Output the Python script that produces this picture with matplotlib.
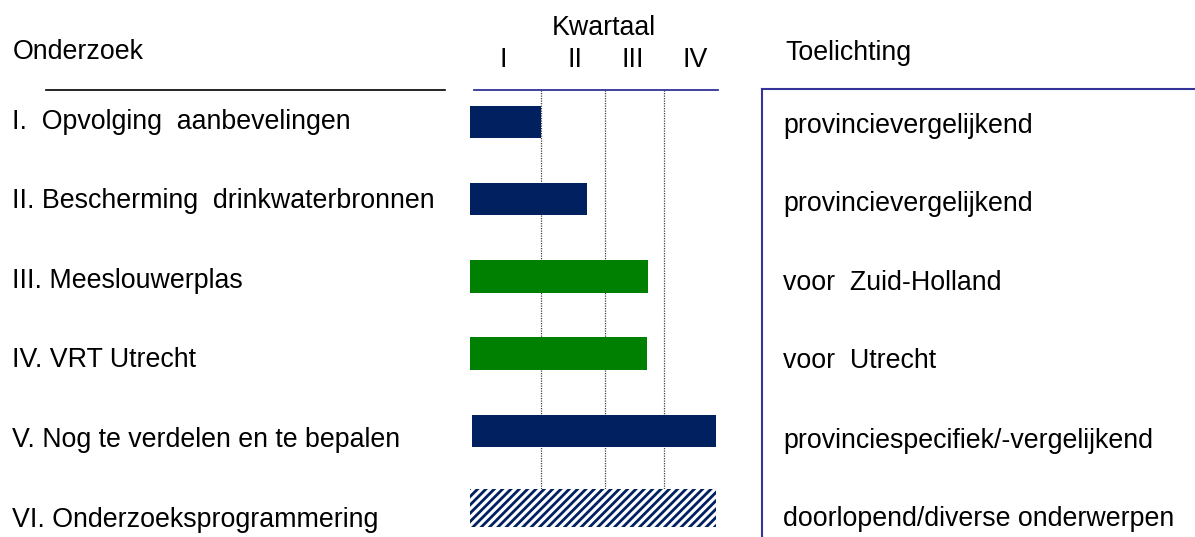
import matplotlib
matplotlib.use("Agg")
import matplotlib.pyplot as plt

# ---------------- data ----------------
projects = [
    "I.  Opvolging  aanbevelingen",
    "II. Bescherming  drinkwaterbronnen",
    "III. Meeslouwerplas",
    "IV. VRT Utrecht",
    "V. Nog te verdelen en te bepalen",
    "VI. Onderzoeksprogrammering",
]
notes = [
    "provincievergelijkend",
    "provincievergelijkend",
    "voor  Zuid-Holland",
    "voor  Utrecht",
    "provinciespecifiek/-vergelijkend",
    "doorlopend/diverse onderwerpen",
]
start_q = [0.0, 0.0, 0.0, 0.0, 0.03, 0.0]
end_q = [1.145, 1.89, 2.87, 2.85, 3.97, 3.97]
kind = ["dark", "dark", "green", "green", "dark", "ongoing"]
quarter_labels = ["I", "II", "III", "IV"]
quarter_label_pos = [0.53, 1.69, 2.62, 3.63]
quarter_bounds = [1.145, 2.18, 3.13]

# ---------------- style ----------------
W, H = 1195, 537
NAVY = "#002060"
GREEN = "#008000"
LINE = "#333399"
FONT = "Liberation Sans"
FS = 19.3
plt.rcParams["font.family"] = [FONT, "DejaVu Sans"]
plt.rcParams["hatch.linewidth"] = 2.0
plt.rcParams["hatch.color"] = NAVY

fig = plt.figure(figsize=(W / 100, H / 100), dpi=100)
fig.patch.set_facecolor("white")

def fx(px):
    return px / W

def fy(py):
    return 1 - py / H

# gantt axes: x 470..718 px, y 90..537 px
ax = fig.add_axes([fx(470), 0, fx(718) - fx(470), fy(90)])
ax.set_xlim(0, 4)
ax.set_ylim(5.376, -0.415)
ax.axis("off")

ax.vlines(quarter_bounds, -0.415, 5 - 0.245, colors="#404040", lw=0.9,
          linestyles=[(0, (1, 1))], zorder=1)

for i, (s, e, k) in enumerate(zip(start_q, end_q, kind)):
    if k == "ongoing":
        ax.barh(i, e - s, left=s, height=0.49, facecolor="white",
                edgecolor=NAVY, hatch="////", lw=0, zorder=3)
    else:
        ax.barh(i, e - s, left=s, height=0.42,
                color=NAVY if k == "dark" else GREEN, lw=0, zorder=3)

# top line over gantt
fig.add_artist(plt.Line2D([fx(474), fx(718)], [fy(90), fy(90)], color=LINE, lw=1.3))
# left underline
fig.add_artist(plt.Line2D([fx(46), fx(445)], [fy(90), fy(90)], color="black", lw=1.2))
# right box
fig.add_artist(plt.Line2D([fx(762), fx(762)], [fy(89), 0], color=LINE, lw=1.5))
fig.add_artist(plt.Line2D([fx(762), 1], [fy(89), fy(89)], color=LINE, lw=1.5))

# headers
fig.text(fx(13), fy(59), "Onderzoek", fontsize=FS, va="baseline", ha="left")
fig.text(fx(785), fy(60), "Toelichting", fontsize=FS, va="baseline", ha="left")
fig.text(fx(604), fy(35), "Kwartaal", fontsize=FS, va="baseline", ha="center")
for lab, pos in zip(quarter_labels, quarter_label_pos):
    xpx = 470 + pos / 4 * (718 - 470)
    fig.text(fx(xpx), fy(67), lab, fontsize=FS, va="baseline", ha="center")

left_base = [129, 208, 288, 367, 447, 527]
right_base = [133, 211, 290, 368, 448, 526]
for txt, yb in zip(projects, left_base):
    fig.text(fx(12), fy(yb), txt, fontsize=FS, va="baseline", ha="left")
for txt, yb in zip(notes, right_base):
    fig.text(fx(783), fy(yb), txt, fontsize=FS, va="baseline", ha="left")

fig.savefig("out.png", dpi=100, facecolor="white")
